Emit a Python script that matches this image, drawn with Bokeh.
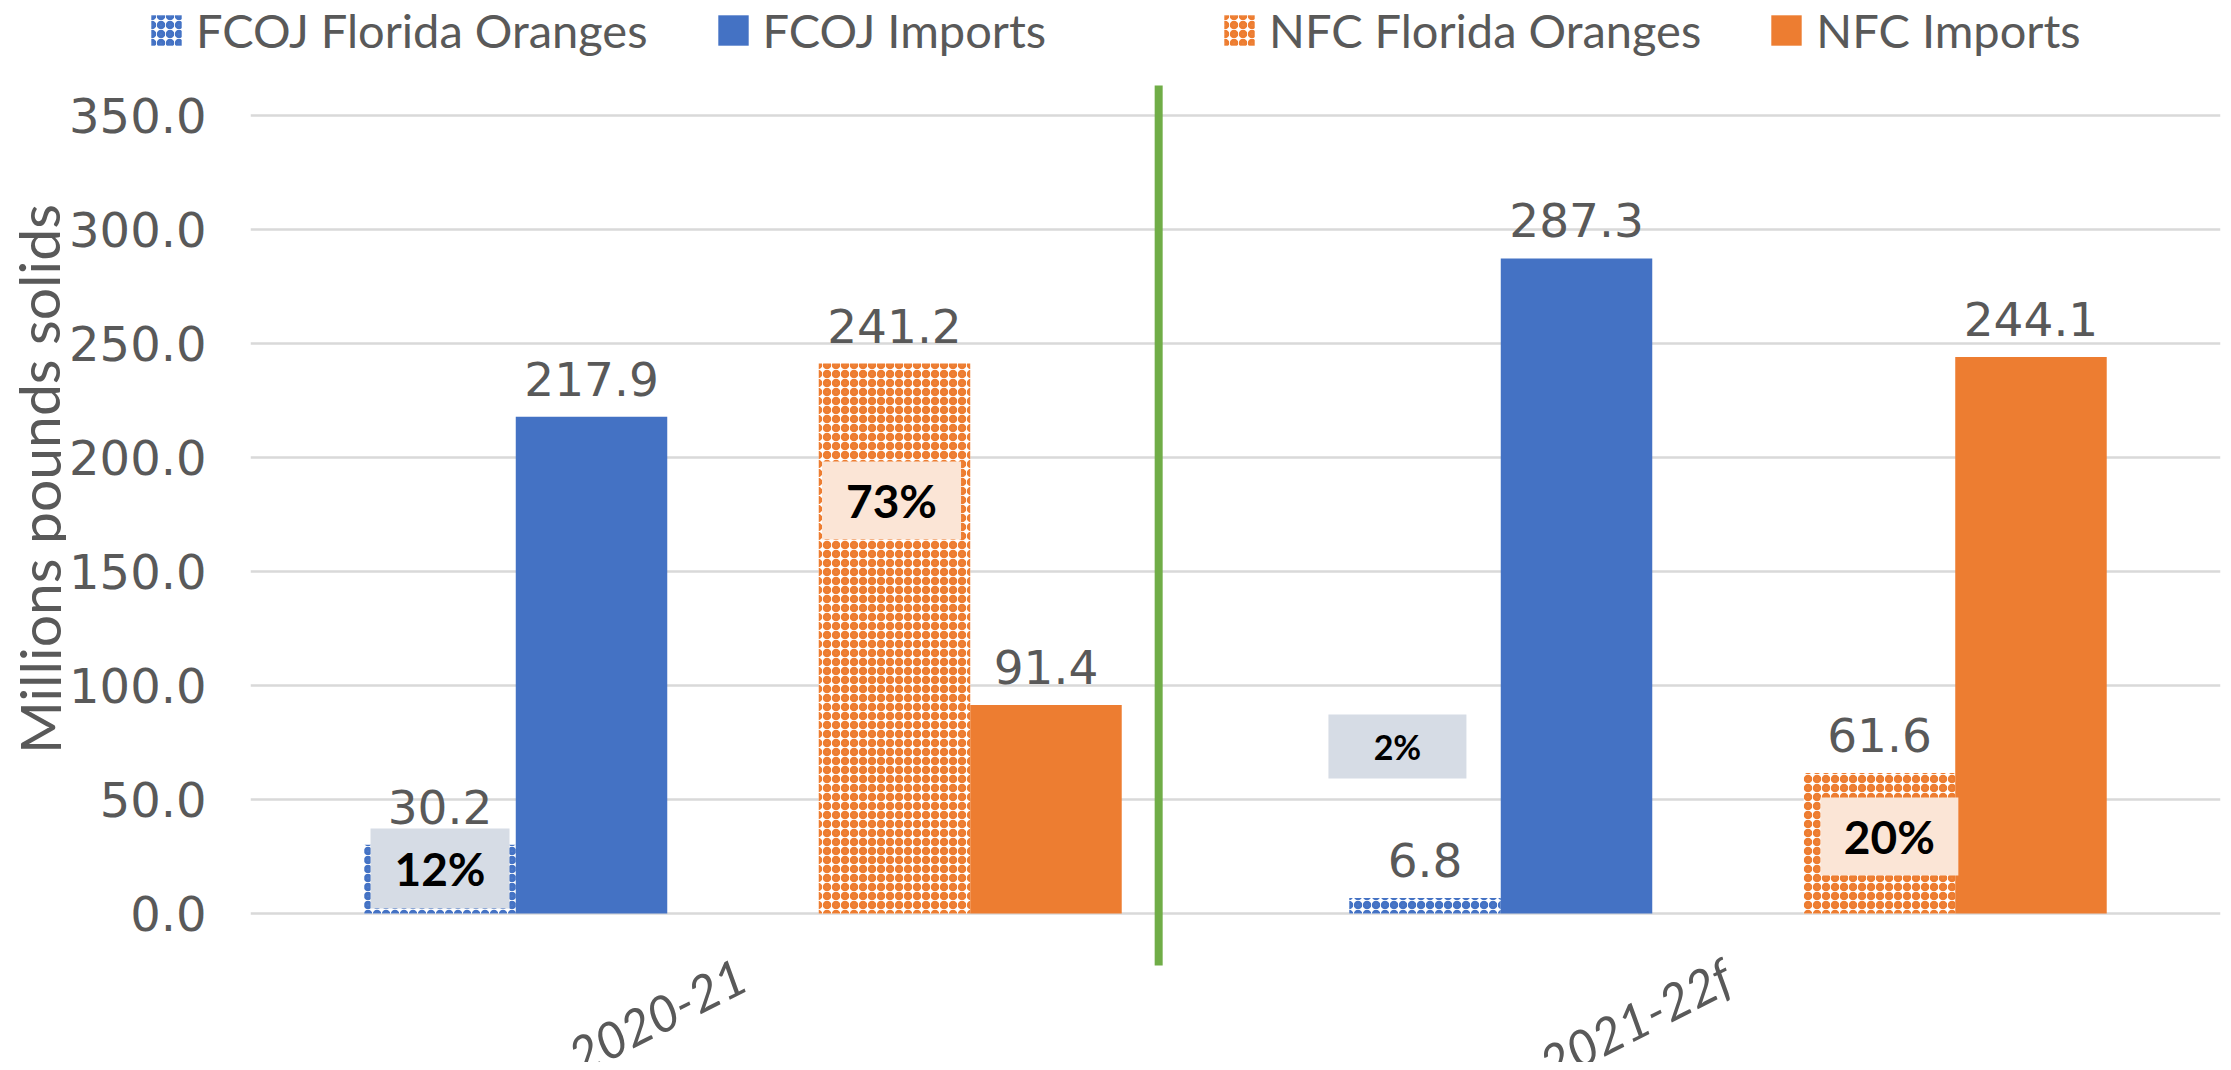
from bokeh.plotting import figure
from bokeh.layouts import column, row
from bokeh.models import (ColumnDataSource, Range1d, FixedTicker, Legend, LegendItem,
                          PrintfTickFormatter)
from bokeh.core.properties import value
from bokeh.embed import file_html
from bokeh.resources import INLINE

# ---------------- data ----------------
categories = ["2020-21", "2021-22f"]
series_names = ["FCOJ Florida Oranges", "FCOJ Imports", "NFC Florida Oranges", "NFC Imports"]
fcoj_florida = [30.2, 6.8]
fcoj_imports = [217.9, 287.3]
nfc_florida = [241.2, 61.6]
nfc_imports = [91.4, 244.1]
fcoj_share_labels = ["12%", "2%"]
nfc_share_labels = ["73%", "20%"]
y_ticks = [0, 50, 100, 150, 200, 250, 300, 350]
y_axis_title = "Millions pounds solids"

# ---------------- style / layout ----------------
BLUE = "#4472C4"
ORANGE = "#ED7D31"
GREEN = "#70AD47"
GRID = "#D9D9D9"
TEXT = "#595959"
BOX_BLUE = "#D6DCE5"
BOX_ORANGE = "#FBE5D6"
NUM_FONT = "DejaVu Sans"
LBL_FONT = "Lato"

W = 2223
LEG_H = 81
MAIN_H = 981
TITLE_W = 66
slot = 0.769 / 5.0
offsets = [-2 * slot, -1 * slot, 1 * slot, 2 * slot]
colors = [BLUE, BLUE, ORANGE, ORANGE]
hatched = [True, False, True, False]


def bar_style(col, hat):
    if hat:
        return dict(fill_color="white", line_color=None, hatch_pattern="ring",
                    hatch_color=col, hatch_scale=9, hatch_weight=4)
    return dict(fill_color=col, line_color=None)


def plain(fig):
    fig.frame_align = False
    fig.outline_line_color = None
    fig.background_fill_color = "white"
    fig.border_fill_color = "white"


# ---------------- main chart ----------------
yr = Range1d(-65.35, 364.9)
p = figure(width=W - TITLE_W, height=MAIN_H, output_backend="svg", toolbar_location=None,
           x_axis_location=None, x_range=Range1d(-0.5, 1.5), y_range=yr,
           min_border_left=248 - TITLE_W, min_border_right=3,
           min_border_top=0, min_border_bottom=0)
plain(p)
p.xgrid.visible = False

yax = p.yaxis[0]
yax.ticker = FixedTicker(ticks=y_ticks)
yax.formatter = PrintfTickFormatter(format="%.1f")
yax.axis_line_color = None
yax.major_tick_line_color = None
yax.minor_tick_line_color = None
yax.major_tick_out = 0
yax.major_tick_in = 0
yax.major_label_standoff = 44
yax.major_label_text_font = NUM_FONT
yax.major_label_text_font_size = "48px"
yax.major_label_text_color = TEXT
p.ygrid.grid_line_color = GRID
p.ygrid.grid_line_width = 2.5

series_values = [fcoj_florida, fcoj_imports, nfc_florida, nfc_imports]

lab_x, lab_y, lab_t = [], [], []
for vals, off, col, hat in zip(series_values, offsets, colors, hatched):
    xs = [i + off for i in range(len(categories))]
    src = ColumnDataSource(dict(x=xs, top=vals))
    p.vbar(x="x", top="top", bottom=0, width=slot, source=src, **bar_style(col, hat))
    lab_x += xs
    lab_y += vals
    lab_t += ["%.1f" % v for v in vals]

# share boxes (annotations): (series idx, cat idx, dx, y center, w px, h px, font px)
box_layout = [
    (0, 0, 0.0, 19.7, 139, 80, 46),
    (2, 0, -0.003, 181.1, 139, 78, 46),
    (0, 1, -0.028, 73.2, 138, 64, 34),
    (2, 1, 0.010, 33.8, 138, 78, 46),
]
share_text = {(0, 0): fcoj_share_labels[0], (0, 1): fcoj_share_labels[1],
              (2, 0): nfc_share_labels[0], (2, 1): nfc_share_labels[1]}
bx, by, bw, bh, bc, bt, bf = [], [], [], [], [], [], []
for s, c, dx, yc, wpx, hpx, fpx in box_layout:
    bx.append(c + offsets[s] + dx)
    by.append(yc)
    bw.append(wpx)
    bh.append(hpx)
    bc.append(BOX_BLUE if s == 0 else BOX_ORANGE)
    bt.append(share_text[(s, c)])
    bf.append("%dpx" % fpx)
bsrc = ColumnDataSource(dict(x=bx, y=by, w=bw, h=bh, c=bc, t=bt, f=bf))
p.rect(x="x", y="y", width="w", height="h", width_units="screen", height_units="screen",
       fill_color="c", line_color=None, source=bsrc)
p.text(x="x", y="y", text="t", text_font_size="f", source=bsrc, text_align="center",
       text_baseline="middle", text_font=value(LBL_FONT), text_font_style="bold",
       text_color="black")

# value labels on top of bars
lsrc = ColumnDataSource(dict(x=lab_x, y=lab_y, t=lab_t))
p.text(x="x", y="y", text="t", source=lsrc, text_align="center",
       text_baseline="alphabetic", y_offset=-38, text_font=value(NUM_FONT),
       text_font_size=value("47px"), text_color=TEXT)

# green divider
divider_x = 0.422
p.segment(x0=[divider_x], y0=[-22.8], x1=[divider_x], y1=[363.2],
          line_color=GREEN, line_width=8)

# category labels (rotated, drawn under the baseline)
csrc = ColumnDataSource(dict(x=list(range(len(categories))), y=[-26] * len(categories),
                             t=categories))
p.text(x="x", y="y", text="t", source=csrc, angle=0.47, text_align="right",
       text_baseline="middle", text_font=value(LBL_FONT), text_font_style="italic",
       text_font_size=value("50px"), text_color=TEXT)

# ---------------- y-axis title strip ----------------
tf = figure(width=TITLE_W, height=MAIN_H, output_backend="svg", toolbar_location=None,
            x_axis_location=None, y_axis_location=None,
            x_range=Range1d(0, TITLE_W), y_range=yr, min_border=0)
plain(tf)
tf.grid.visible = False
tf.text(x=[38], y=[190.5], text=[y_axis_title], angle=1.5708, text_align="center",
        text_baseline="middle", text_font=value(LBL_FONT), text_font_size=value("57px"),
        text_color=TEXT)

# ---------------- legend strip ----------------
lf = figure(width=W, height=LEG_H, output_backend="svg", toolbar_location=None,
            x_axis_location=None, y_axis_location=None,
            x_range=Range1d(0, 1), y_range=Range1d(0, 1), min_border=0)
plain(lf)
lf.grid.visible = False

# proxy renderers for the legend (placed far outside the visible range)
leg_renderers = [lf.vbar(x=[0.5], bottom=[-40], top=[-39], width=0.01, **bar_style(c, h))
                 for c, h in zip(colors, hatched)]


def make_legend(idx, vx):
    return Legend(items=[LegendItem(label=series_names[i], renderers=[leg_renderers[i]])
                         for i in idx],
                  orientation="horizontal", location=(vx, 23),
                  label_text_font=LBL_FONT, label_text_font_size="47px",
                  label_text_color=TEXT, glyph_width=38, glyph_height=38,
                  label_standoff=11, spacing=66, padding=0, margin=0,
                  border_line_color=None, background_fill_alpha=0)


lf.add_layout(make_legend([0, 1], 147), "center")
lf.add_layout(make_legend([2, 3], 1220), "center")

layout = column(lf, row(tf, p, spacing=0), spacing=0)
open("out.html", "w").write(file_html(layout, INLINE))
